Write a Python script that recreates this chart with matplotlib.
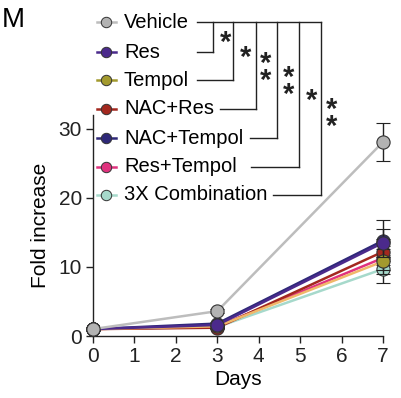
import matplotlib
matplotlib.use("Agg")
import matplotlib.pyplot as plt
from matplotlib.lines import Line2D

plt.rcParams['font.family'] = ['Liberation Sans', 'DejaVu Sans']

days = [0, 3, 7]
groups = ["Vehicle", "Res", "Tempol", "NAC+Res", "NAC+Tempol", "Res+Tempol", "3X Combination"]
vehicle = [1.0, 3.6, 28.1]
res = [1.0, 1.6, 13.5]
tempol = [1.0, 1.4, 10.8]
nac_res = [1.0, 1.2, 12.2]
nac_tempol = [1.0, 1.8, 13.8]
res_tempol = [1.0, 1.4, 11.3]
combo = [1.0, 1.3, 9.7]
vehicle_err = [0.0, 0.3, 2.8]
res_err = [0.0, 0.2, 2.0]
tempol_err = [0.0, 0.2, 1.8]
nac_res_err = [0.0, 0.2, 1.9]
nac_tempol_err = [0.0, 0.2, 3.0]
res_tempol_err = [0.0, 0.2, 1.8]
combo_err = [0.0, 0.2, 2.0]

values = [vehicle, res, tempol, nac_res, nac_tempol, res_tempol, combo]
errors = [vehicle_err, res_err, tempol_err, nac_res_err, nac_tempol_err, res_tempol_err, combo_err]
marker_colors = ["#b3b3b3", "#4b2a8c", "#a39a2e", "#a3281e", "#2e2878", "#e0327e", "#a6d9cb"]
line_colors = ["#bdbdbd", "#4b2a8c", "#f0b86a", "#a3281e", "#2e2878", "#e0327e", "#a6d9cb"]
sig = ["*", "*", "**", "**", "*", "**"]

W, H = 402, 398
fig = plt.figure(figsize=(W / 100, H / 100), dpi=100)
ax = fig.add_axes([93 / W, 1 - 336 / H, 290 / W, 221 / H])

for i in reversed(range(len(groups))):
    ax.errorbar(days, values[i], yerr=errors[i], color=line_colors[i], lw=1.8,
                ecolor="#222222", elinewidth=1.0, capsize=5, capthick=1.0,
                marker="o", ms=9.5, mfc=marker_colors[i], mec="#333333", mew=0.8,
                clip_on=False, zorder=3 + (len(groups) - i) * 0.1)

ax.set_xlim(0, 7)
ax.set_ylim(0, 32)
ax.set_xticks(range(8))
ax.set_yticks([0, 10, 20, 30])
for s in ["top", "right"]:
    ax.spines[s].set_visible(False)
for s in ["left", "bottom"]:
    ax.spines[s].set_linewidth(1.0)
    ax.spines[s].set_color("#222222")
ax.tick_params(labelsize=15, length=5, width=1.0, colors="#222222", pad=3)
ax.set_xlabel("Days", fontsize=15, labelpad=3)
ax.set_ylabel("Fold increase", fontsize=15, labelpad=6)

def fx(x):
    return x / W

def fy(y):
    return 1 - y / H

fig.text(fx(2), fy(20), "M", fontsize=20, va="center", ha="left")

rows_y = [22, 52, 80, 109, 138, 167, 195]
text_end = [197, 197, 197, 220, 250, 251, 273]
vert_x = [213, 233, 256, 277, 299, 321]
for i, g in enumerate(groups):
    y = rows_y[i]
    fig.add_artist(Line2D([fx(97), fx(116)], [fy(y), fy(y)], color=line_colors[i] if i != 2 else marker_colors[i],
                          lw=1.8, transform=fig.transFigure))
    fig.add_artist(Line2D([fx(106)], [fy(y)], marker="o", ms=7.5, mfc=marker_colors[i], mec="#333333",
                          mew=0.7, transform=fig.transFigure))
    fig.text(fx(124), fy(y), g, fontsize=14.5, va="center", ha="left")

lk = dict(color="#222222", lw=1.0, transform=fig.transFigure)
fig.add_artist(Line2D([fx(text_end[0]), fx(vert_x[-1])], [fy(22), fy(22)], **lk))
for j in range(6):
    y = rows_y[j + 1]
    fig.add_artist(Line2D([fx(vert_x[j]), fx(vert_x[j])], [fy(22), fy(y)], **lk))
    fig.add_artist(Line2D([fx(text_end[j + 1]), fx(vert_x[j])], [fy(y), fy(y)], **lk))

star_x = [226, 246, 266, 289, 312, 332]
star_y = [37, 52, 58, 72, 95, 104]
for sx, sy, s in zip(star_x, star_y, sig):
    n = len(s)
    cy = sy + 6 + 8.5 * (n - 1)
    fig.text(fx(sx), fy(cy), "\n".join(s), fontsize=21, fontweight="bold",
             va="center", ha="center", color="#222222", linespacing=0.52)

fig.savefig("out.png", dpi=100)
